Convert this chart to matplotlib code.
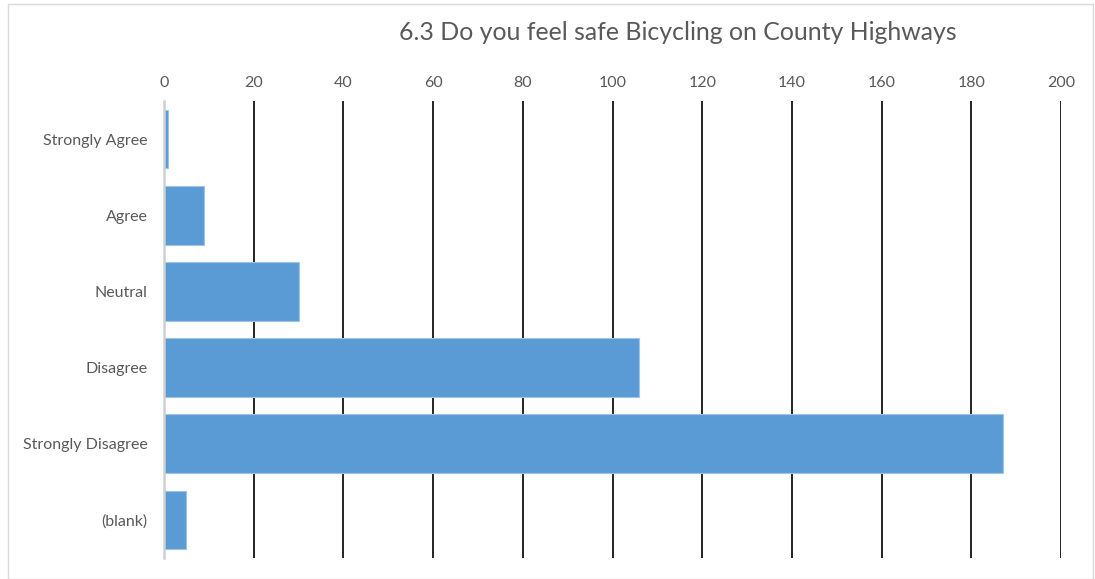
import matplotlib.pyplot as plt
from matplotlib.patches import Rectangle

categories = ["Strongly Agree", "Agree", "Neutral", "Disagree", "Strongly Disagree", "(blank)"]
counts = [1, 9, 30, 106, 187, 5]
xticks = [0, 20, 40, 60, 80, 100, 120, 140, 160, 180, 200]

plt.rcParams['font.family'] = ['Lato', 'DejaVu Sans']

fig = plt.figure(figsize=(10.95, 5.79), dpi=100)
ax = fig.add_axes([164/1095, 1 - 558/579, (1061 - 164)/1095, (558 - 101)/579])

ax.barh(categories, counts, height=0.77, color="#5B9BD5", edgecolor="#9DC3E6", linewidth=0.8, zorder=3)
ax.set_xlim(0, 200)
ax.set_ylim(len(categories) - 0.5, -0.5)
ax.set_xticks(xticks)
ax.xaxis.tick_top()
ax.tick_params(axis='both', length=0, colors="#595959", labelsize=11.5)
ax.tick_params(axis='x', pad=8)
ax.tick_params(axis='y', pad=12)
ax.grid(axis='x', color="#222222", linewidth=1.4, zorder=0)
ax.set_axisbelow(True)
for s in ["top", "right", "bottom"]:
    ax.spines[s].set_visible(False)
ax.spines["left"].set_color("#d0d0d0")
ax.spines["left"].set_linewidth(1.8)
ax.spines["left"].set_zorder(4)

fig.text(678/1095, 1 - 32/579, "6.3 Do you feel safe Bicycling on County Highways",
         ha="center", va="center", fontsize=17.9, color="#595959")

fig.patches.append(Rectangle((8/1095, 0), 1 - 8/1095 - 2/1095, 1 - 4/579, transform=fig.transFigure,
                             fill=False, edgecolor="#d9d9d9", linewidth=1))

fig.savefig("out.png", dpi=100)
